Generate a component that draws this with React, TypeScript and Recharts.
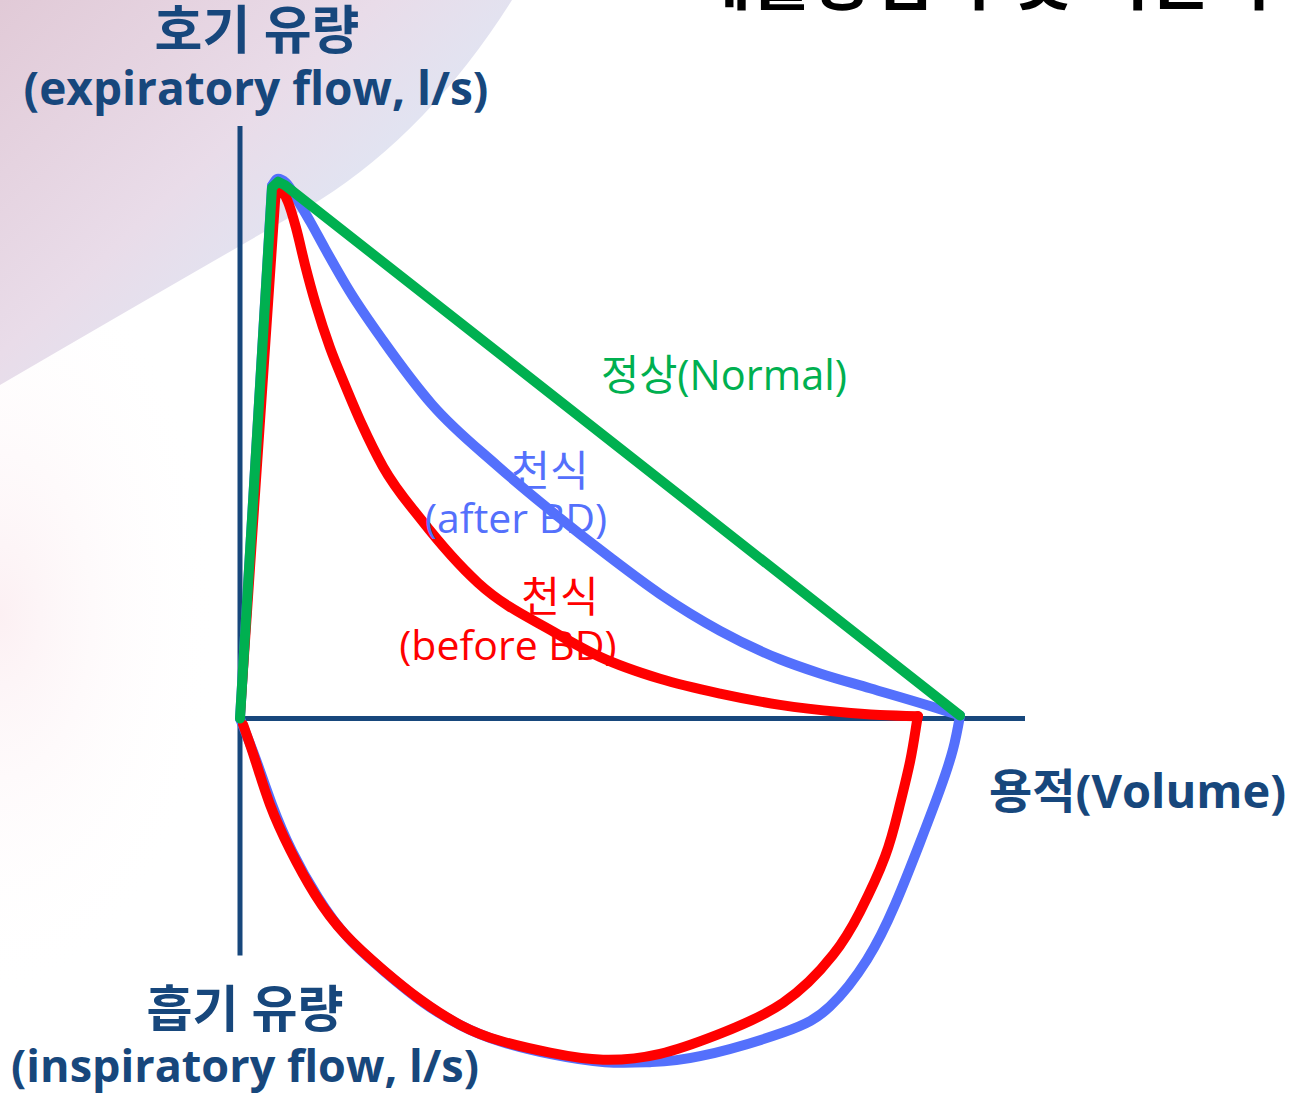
import { ComposedChart, Line, XAxis, YAxis, ReferenceLine } from "recharts";

// volume (l) on x, flow (l/s) on y
const normalLoop = [
  { v: 0, f: 0 },
  { v: 0.265, f: 8.96 },
  { v: 0.315, f: 9.06 },
  { v: 0.373, f: 9.0 },
  { v: 5.962, f: 0.05 },
];

const afterRise = [
  { v: 0, f: 0 },
  { v: 0.265, f: 8.99 },
];

const afterExp = [
  { v: 0.265, f: 8.99 },
  { v: 0.315, f: 9.11 },
  { v: 0.381, f: 9.04 },
  { v: 0.464, f: 8.79 },
  { v: 0.58, f: 8.39 },
  { v: 0.704, f: 7.93 },
  { v: 0.911, f: 7.2 },
  { v: 1.184, f: 6.38 },
  { v: 1.59, f: 5.3 },
  { v: 2.128, f: 4.27 },
  { v: 2.608, f: 3.45 },
  { v: 3.064, f: 2.72 },
  { v: 3.478, f: 2.1 },
  { v: 3.975, f: 1.48 },
  { v: 4.471, f: 1.0 },
  { v: 4.803, f: 0.76 },
  { v: 5.217, f: 0.51 },
  { v: 5.713, f: 0.21 },
  { v: 5.962, f: 0.05 },
];

const afterInsp = [
  { v: 0, f: 0 },
  { v: 0.132, f: -0.69 },
  { v: 0.265, f: -1.45 },
  { v: 0.431, f: -2.24 },
  { v: 0.646, f: -3.02 },
  { v: 0.894, f: -3.7 },
  { v: 1.201, f: -4.28 },
  { v: 1.515, f: -4.79 },
  { v: 1.838, f: -5.19 },
  { v: 2.169, f: -5.46 },
  { v: 2.583, f: -5.67 },
  { v: 3.022, f: -5.8 },
  { v: 3.395, f: -5.8 },
  { v: 3.809, f: -5.7 },
  { v: 4.496, f: -5.3 },
  { v: 4.885, f: -4.86 },
  { v: 5.192, f: -4.07 },
  { v: 5.424, f: -3.14 },
  { v: 5.631, f: -2.09 },
  { v: 5.796, f: -1.2 },
  { v: 5.904, f: -0.52 },
  { v: 5.962, f: 0.05 },
];

const beforeRise = [
  { v: 0.01, f: 0 },
  { v: 0.306, f: 8.84 },
];

const beforeExp = [
  { v: 0.306, f: 8.84 },
  { v: 0.348, f: 8.89 },
  { v: 0.397, f: 8.72 },
  { v: 0.464, f: 8.28 },
  { v: 0.538, f: 7.66 },
  { v: 0.629, f: 6.98 },
  { v: 0.745, f: 6.26 },
  { v: 0.861, f: 5.67 },
  { v: 1.01, f: 4.96 },
  { v: 1.184, f: 4.25 },
  { v: 1.499, f: 3.36 },
  { v: 1.971, f: 2.29 },
  { v: 2.608, f: 1.45 },
  { v: 2.981, f: 1.04 },
  { v: 3.478, f: 0.67 },
  { v: 3.975, f: 0.42 },
  { v: 4.471, f: 0.23 },
  { v: 4.968, f: 0.11 },
  { v: 5.299, f: 0.06 },
  { v: 5.614, f: 0.04 },
];

const beforeInsp = [
  { v: 0.025, f: -0.1 },
  { v: 0.124, f: -0.69 },
  { v: 0.248, f: -1.45 },
  { v: 0.414, f: -2.21 },
  { v: 0.621, f: -2.97 },
  { v: 0.869, f: -3.64 },
  { v: 1.184, f: -4.24 },
  { v: 1.49, f: -4.74 },
  { v: 1.822, f: -5.17 },
  { v: 2.153, f: -5.44 },
  { v: 2.567, f: -5.64 },
  { v: 3.006, f: -5.76 },
  { v: 3.478, f: -5.66 },
  { v: 3.95, f: -5.34 },
  { v: 4.496, f: -4.8 },
  { v: 4.91, f: -3.99 },
  { v: 5.134, f: -3.26 },
  { v: 5.341, f: -2.33 },
  { v: 5.457, f: -1.51 },
  { v: 5.548, f: -0.73 },
  { v: 5.598, f: -0.14 },
  { v: 5.614, f: 0.04 },
];

const NAVY = "#17477c";
const GREEN = "#00b050";
const BLUE = "#5470fc";
const RED = "#ff0000";
const KR = "'Open Sans', 'Noto Sans CJK KR', sans-serif";

const common = {
  dataKey: "f",
  dot: false,
  activeDot: false,
  strokeLinecap: "round" as const,
  strokeLinejoin: "round" as const,
  isAnimationActive: false,
};

export default function App() {
  return (
    <div
      style={{
        position: "relative",
        width: 1291,
        height: 1093,
        overflow: "hidden",
        background: "#fff",
      }}
    >
      <style>{"body{margin:0}"}</style>

      {/* faint slide background in the top-left corner */}
      <svg width={1291} height={1093} style={{ position: "absolute", left: 0, top: 0 }}>
        <defs>
          <linearGradient id="corner" x1="0" y1="0" x2="1" y2="0.8">
            <stop offset="0%" stopColor="#e1cad7" />
            <stop offset="45%" stopColor="#e9dce9" />
            <stop offset="72%" stopColor="#dfe6f4" />
            <stop offset="100%" stopColor="#e5ecf8" />
          </linearGradient>
          <radialGradient id="pinkfade" cx="0" cy="0.45" r="0.55">
            <stop offset="0%" stopColor="#fcf0f3" />
            <stop offset="100%" stopColor="#ffffff" stopOpacity="0" />
          </radialGradient>
        </defs>
        <rect x={0} y={300} width={400} height={700} fill="url(#pinkfade)" />
        <path d="M0,0 L512,0 Q430,130 320,200 Q180,280 0,385 Z" fill="url(#corner)" />
      </svg>

      <div style={{ position: "absolute", left: 0, top: 0 }}>
        <ComposedChart
          width={1291}
          height={1093}
          margin={{ top: 126, right: 266, bottom: 19, left: 240 }}
        >
          <XAxis type="number" dataKey="v" domain={[0, 6.5]} hide />
          <YAxis type="number" dataKey="f" domain={[-6, 10]} hide />
          <ReferenceLine
            segment={[
              { x: 0, y: -4 },
              { x: 0, y: 10 },
            ]}
            stroke={NAVY}
            strokeWidth={5}
            ifOverflow="visible"
          />
          <ReferenceLine
            segment={[
              { x: 0, y: 0 },
              { x: 6.5, y: 0 },
            ]}
            stroke={NAVY}
            strokeWidth={5}
            ifOverflow="visible"
          />
          <Line {...common} data={afterRise} type="linear" stroke={BLUE} strokeWidth={10} />
          <Line {...common} data={afterExp} type="monotone" stroke={BLUE} strokeWidth={10} />
          <Line {...common} data={afterInsp} type="natural" stroke={BLUE} strokeWidth={10} />
          <Line {...common} data={beforeRise} type="linear" stroke={RED} strokeWidth={7} />
          <Line {...common} data={beforeExp} type="monotone" stroke={RED} strokeWidth={10} />
          <Line {...common} data={beforeInsp} type="natural" stroke={RED} strokeWidth={10} />
          <Line {...common} data={normalLoop} type="linear" stroke={GREEN} strokeWidth={10} />
        </ComposedChart>
      </div>

      <svg
        width={1291}
        height={1093}
        style={{ position: "absolute", left: 0, top: 0, pointerEvents: "none" }}
        fontFamily={KR}
      >
        <text x={690} y={4} fontSize={66} fontWeight={700} fill="#000">
          폐활량검사 및 기관지확장제 반응
        </text>

        <text x={257} y={49} fontSize={52} fontWeight={700} fill={NAVY} textAnchor="middle">
          호기 유량
        </text>
        <text x={256} y={105} fontSize={46} fontWeight={700} fill={NAVY} textAnchor="middle">
          (expiratory flow, l/s)
        </text>
        <text x={245} y={1027} fontSize={50} fontWeight={700} fill={NAVY} textAnchor="middle">
          흡기 유량
        </text>
        <text x={245} y={1082} fontSize={45} fontWeight={700} fill={NAVY} textAnchor="middle">
          (inspiratory flow, l/s)
        </text>
        <text x={989} y={808} fontSize={47} fontWeight={700} fill={NAVY}>
          용적(Volume)
        </text>

        <text x={601} y={390} fontSize={41.5} fill={GREEN}>
          정상(Normal)
        </text>
        <text x={550} y={486} fontSize={42} fill={BLUE} textAnchor="middle">
          천식
        </text>
        <text x={516} y={533} fontSize={41} fill={BLUE} textAnchor="middle">
          (after BD)
        </text>
        <text x={560} y={612} fontSize={42} fill={RED} textAnchor="middle">
          천식
        </text>
        <text x={508} y={660} fontSize={41} fill={RED} textAnchor="middle">
          (before BD)
        </text>
      </svg>
    </div>
  );
}
